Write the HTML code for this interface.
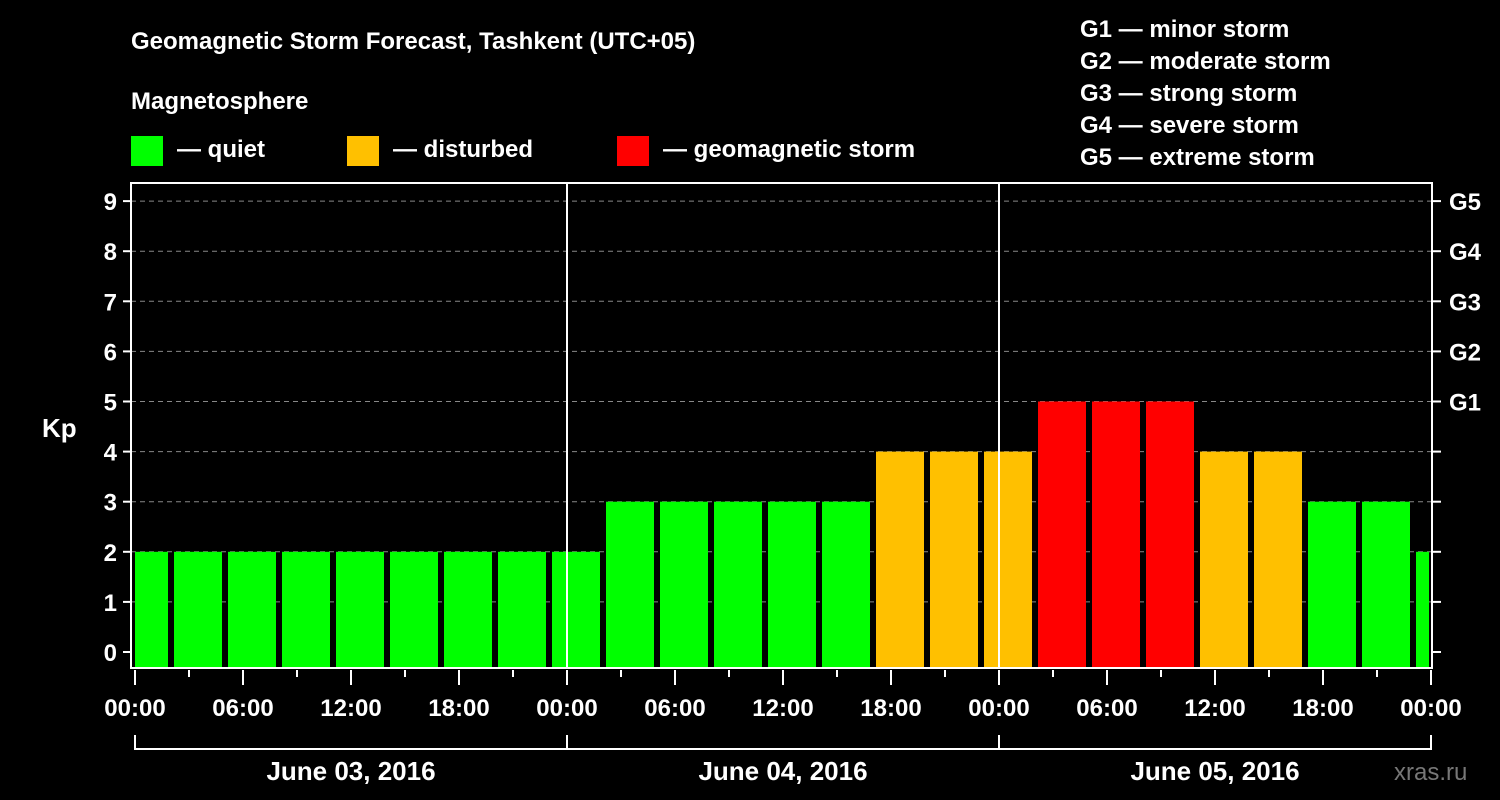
<!DOCTYPE html>
<html><head><meta charset="utf-8"><style>
html,body{margin:0;padding:0;background:#000;}
svg{display:block;font-family:"Liberation Sans",sans-serif;font-weight:bold;}
</style></head><body>
<svg id="chart" width="1500" height="800" viewBox="0 0 1500 800">
<rect width="1500" height="800" fill="#000"/>
<text x="131" y="49" fill="#fff" font-size="24">Geomagnetic Storm Forecast, Tashkent (UTC+05)</text>
<text x="131" y="109" fill="#fff" font-size="24">Magnetosphere</text>
<g><rect x="131" y="136" width="32" height="30" fill="#00ff00"/><text x="177" y="157" fill="#fff" font-size="24">— quiet</text></g>
<g><rect x="347" y="136" width="32" height="30" fill="#ffc000"/><text x="393" y="157" fill="#fff" font-size="24">— disturbed</text></g>
<g><rect x="617" y="136" width="32" height="30" fill="#ff0000"/><text x="663" y="157" fill="#fff" font-size="24">— geomagnetic storm</text></g>
<g fill="#fff" font-size="24">
<text x="1080" y="37">G1 — minor storm</text>
<text x="1080" y="69">G2 — moderate storm</text>
<text x="1080" y="101">G3 — strong storm</text>
<text x="1080" y="133">G4 — severe storm</text>
<text x="1080" y="165">G5 — extreme storm</text>
</g>
<text x="42" y="437" fill="#fff" font-size="26">Kp</text>
<text x="1394" y="780" fill="#777" font-size="24" font-weight="normal">xras.ru</text>
<g id="plot"></g>
</svg>
<script>
const kpValues=[2,2,2,2,2,2,2,2,2,3,3,3,3,3,4,4,4,5,5,5,4,4,3,3,2];
const yTicks=[0,1,2,3,4,5,6,7,8,9];
const gLabels=["G1","G2","G3","G4","G5"];
const xTickLabels=["00:00","06:00","12:00","18:00","00:00","06:00","12:00","18:00","00:00","06:00","12:00","18:00","00:00"];
const dayLabels=["June 03, 2016","June 04, 2016","June 05, 2016"];
const NS="http://www.w3.org/2000/svg";
const L=131,R=1432,T=183,B=668;
const x0=135,pxPerHour=18;
function xs(h){return x0+h*pxPerHour;}
function ys(k){return 652-k*50.1;}
const g=document.getElementById('plot');
function mk(tag,attrs,parent){const e=document.createElementNS(NS,tag);for(const k in attrs)e.setAttribute(k,attrs[k]);(parent||g).appendChild(e);return e;}
// clip
const defs=mk('defs',{});
const cp=mk('clipPath',{id:'pc'},defs);
mk('rect',{x:L+4,y:T,width:R-L-4-3,height:B-T},cp);
// gridlines
yTicks.forEach(k=>{if(k>=6){
const ln=mk('line',{x1:L,x2:R,y1:ys(k),y2:ys(k),stroke:'#888','stroke-dasharray':'5,4','stroke-width':1});

}});
// bars
const bg=mk('g',{'clip-path':'url(#pc)'});
kpValues.forEach((v,i)=>{
const start=-1+3*i;
const col=v>=5?'#ff0000':(v>=4?'#ffc000':'#00ff00');
const r=mk('rect',{x:xs(start)+3,y:ys(v),width:3*pxPerHour-6,height:B-ys(v),fill:col},bg);


});
// gridlines above bars for 5 and below are drawn only in empty area
yTicks.forEach(k=>{if(k<=5&&k>=1){
const ln=mk('line',{x1:L,x2:R,y1:ys(k),y2:ys(k),stroke:'#888','stroke-dasharray':'5,4','stroke-width':1});


g.insertBefore(ln,bg);}});
// day separators
[1,2].forEach(d=>{
const ln=mk('line',{x1:xs(24*d),x2:xs(24*d),y1:T,y2:B,stroke:'#fff','stroke-width':2});

});
// frame
const fr=mk('rect',{x:L,y:T,width:R-L,height:B-T,fill:'none',stroke:'#fff','stroke-width':2});


// y ticks and labels
yTicks.forEach(k=>{
mk('line',{x1:L-8,x2:L,y1:ys(k),y2:ys(k),stroke:'#fff','stroke-width':2});
mk('line',{x1:R,x2:R+9,y1:ys(k),y2:ys(k),stroke:'#fff','stroke-width':2});
const t=mk('text',{x:L-14,y:ys(k)+9,fill:'#fff','font-size':24,'text-anchor':'end'});
t.textContent=k;


});
gLabels.forEach((lab,i)=>{
const t=mk('text',{x:R+17,y:ys(5+i)+9,fill:'#fff','font-size':24});
t.textContent=lab;


});
// x ticks
for(let h=0;h<=72;h+=3){
const major=h%6===0;
mk('line',{x1:xs(h),x2:xs(h),y1:B+2,y2:B+(major?17:9),stroke:'#fff','stroke-width':2});
}
xTickLabels.forEach((lab,i)=>{
const t=mk('text',{x:xs(i*6),y:716,fill:'#fff','font-size':24,'text-anchor':'middle'});
t.textContent=lab;


});
// day brackets
dayLabels.forEach((lab,d)=>{
const a=xs(24*d),b=xs(24*(d+1));
mk('path',{d:`M${a} 735V749H${b}V735`,fill:'none',stroke:'#fff','stroke-width':2});
const t=mk('text',{x:(a+b)/2,y:780,fill:'#fff','font-size':26,'text-anchor':'middle'});
t.textContent=lab;


});
</script>
</body></html>
